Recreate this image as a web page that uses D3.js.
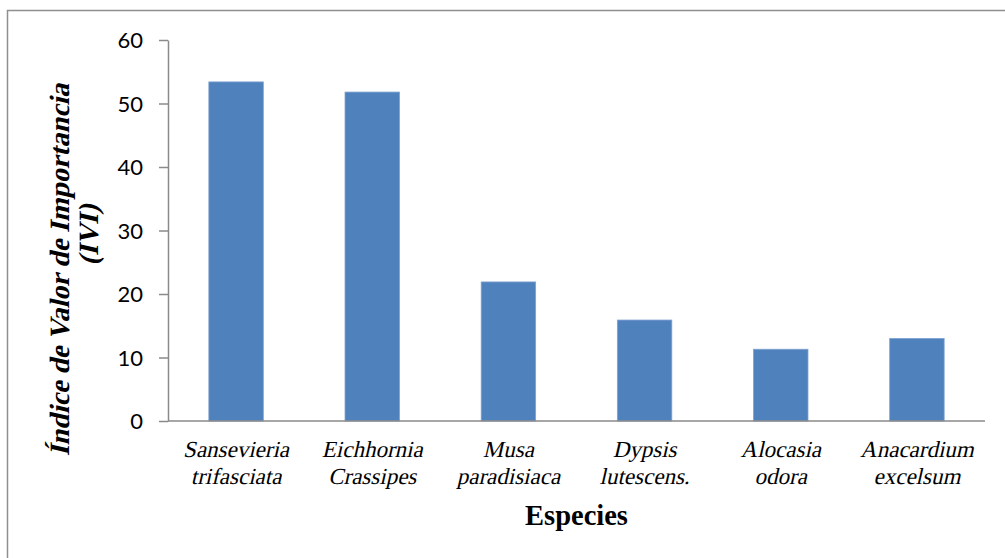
<!DOCTYPE html>
<html>
<head>
<meta charset="utf-8">
<script src="https://cdn.jsdelivr.net/npm/d3@7"></script>
<style>
  html, body { margin: 0; padding: 0; background: #fff; }
  svg { display: block; }
</style>
</head>
<body>
<svg id="chart" width="1005" height="558"></svg>
<script>
// Species (two-line labels) and their IVI values
const species = [
  ["Sansevieria", "trifasciata"],
  ["Eichhornia", "Crassipes"],
  ["Musa", "paradisiaca"],
  ["Dypsis", "lutescens."],
  ["Alocasia", "odora"],
  ["Anacardium", "excelsum"]
];
const ivi = [53.4, 51.8, 21.9, 15.9, 11.3, 13.0];
const yTicks = [0, 10, 20, 30, 40, 50, 60];

const svg = d3.select("#chart");
const W = 1005, H = 558;
const SERIF = "Liberation Serif";
const SLANT = -13; // oblique slant for the serif labels

// outer frame (top and left edges visible)
svg.append("path")
  .attr("d", `M7.5,${H} V10.5 H${W}`)
  .attr("fill", "none")
  .attr("stroke", "#8f8f8f")
  .attr("stroke-width", 1.5);

const plot = { left: 168, right: 985, top: 40, bottom: 421 };

const x = d3.scaleBand()
  .domain(d3.range(species.length))
  .range([plot.left, plot.right])
  .paddingInner(0.6)
  .paddingOuter(0.3);

const y = d3.scaleLinear().domain([0, 60]).range([plot.bottom, plot.top]);

// bars
svg.append("g").selectAll("rect")
  .data(ivi)
  .join("rect")
  .attr("x", (d, i) => x(i))
  .attr("width", x.bandwidth())
  .attr("y", d => y(d))
  .attr("height", d => y(0) - y(d))
  .attr("fill", "#4F81BD")
  .attr("stroke", "#7ea2d0")
  .attr("stroke-width", 0.8);

// y axis
const yAxis = svg.append("g")
  .attr("transform", `translate(${plot.left},0)`)
  .call(d3.axisLeft(y).tickValues(yTicks).tickSize(9).tickPadding(16).tickSizeOuter(0));
yAxis.select(".domain").attr("stroke", "#8a8a8a").attr("stroke-width", 1.5);
yAxis.selectAll(".tick line").attr("stroke", "#8a8a8a").attr("stroke-width", 1.5);
yAxis.selectAll(".tick text")
  .attr("font-family", "Lato, 'Open Sans', sans-serif")
  .attr("font-size", 22)
  .attr("fill", "#000")
  .attr("dy", "0.36em");

// x baseline
svg.append("line")
  .attr("x1", plot.left).attr("x2", plot.right)
  .attr("y1", y(0)).attr("y2", y(0))
  .attr("stroke", "#8a8a8a").attr("stroke-width", 1.5);

// category labels (two lines each)
species.forEach((lines, i) => {
  const cx = x(i) + x.bandwidth() / 2;
  lines.forEach((ln, k) => {
    const by = 457 + k * 26.5;
    svg.append("text")
      .attr("transform", `translate(${cx},${by}) skewX(${SLANT})`)
      .attr("text-anchor", "middle")
      .attr("font-family", SERIF)
      .attr("font-size", 23)
      .attr("fill", "#000")
      .text(ln);
  });
});

// x axis title
svg.append("text")
  .attr("x", (plot.left + plot.right) / 2)
  .attr("y", 525)
  .attr("text-anchor", "middle")
  .attr("font-family", SERIF)
  .attr("font-weight", "bold")
  .attr("font-size", 28.5)
  .attr("fill", "#000")
  .text("Especies");

// y axis title (two lines, rotated)
const yTitle = ["Índice de Valor de Importancia", "(IVI)"];
const yTitlePos = [[69, 270], [98, 235]];
yTitle.forEach((ln, k) => {
  const [tx, ty] = yTitlePos[k];
  svg.append("text")
    .attr("transform", `translate(${tx},${ty}) rotate(-90) skewX(${SLANT})`)
    .attr("text-anchor", "middle")
    .attr("font-family", SERIF)
    .attr("font-weight", "bold")
    .attr("font-size", 28)
    .attr("fill", "#000")
    .text(ln);
});
</script>
</body>
</html>
